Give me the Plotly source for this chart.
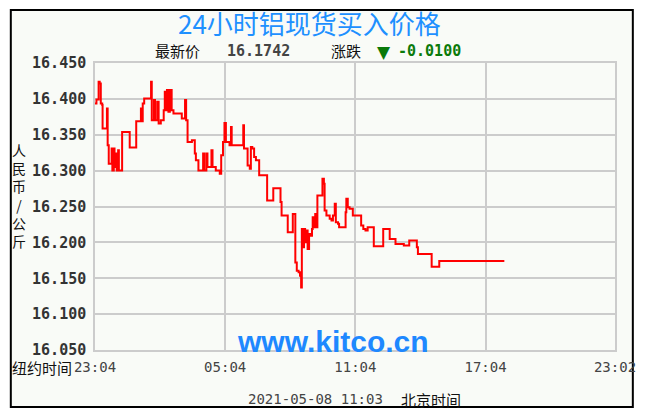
import pandas as pd
import plotly.graph_objects as go

# ---- data ----
start_time = "2021-05-07 23:04"
minutes = [0, 4, 10, 13, 16, 20, 21, 33, 35, 38, 46, 48, 52, 54, 58, 60, 64, 66, 75, 96,
           114, 127, 128, 132, 136, 155, 157, 163, 166, 172, 176, 182, 190, 193, 196, 199,
           203, 207, 212, 217, 240, 249, 252, 256, 268, 276, 279, 286, 299, 302, 308, 311,
           322, 325, 334, 345, 349, 354, 358, 362, 372, 376, 378, 410, 412, 422, 428, 431,
           435, 440, 445, 454, 476, 493, 513, 516, 533, 547, 554, 558, 563, 567, 570, 572,
           575, 578, 581, 584, 588, 592, 597, 600, 602, 606, 609, 611, 615, 629, 633, 635,
           640, 649, 654, 658, 663, 666, 672, 675, 693, 695, 699, 704, 713, 736, 742, 748,
           754, 771, 797, 815, 831, 854, 869, 890, 893, 931, 952, 1132]
prices = [16.3936, 16.3992, 16.4239, 16.4216, 16.3936, 16.3913, 16.3586, 16.3866, 16.3353,
          16.3097, 16.3307, 16.3003, 16.3307, 16.3050, 16.3237, 16.3003, 16.3283, 16.3003,
          16.3540, 16.3321, 16.3689, 16.3866, 16.3689, 16.3936, 16.4006, 16.4239, 16.3703,
          16.3983, 16.3703, 16.3959, 16.3656, 16.3703, 16.3843, 16.4099, 16.3843, 16.4122,
          16.3820, 16.4122, 16.3843, 16.3796, 16.3726, 16.3983, 16.3703, 16.3400, 16.3423,
          16.3237, 16.3143, 16.3003, 16.3237, 16.3003, 16.3237, 16.3050, 16.3283, 16.3050,
          16.3003, 16.2957, 16.3213, 16.3400, 16.3665, 16.3400, 16.3353, 16.3609, 16.3353,
          16.3633, 16.3307, 16.3073, 16.3027, 16.3330, 16.3307, 16.3190, 16.3143, 16.2934,
          16.2584, 16.2756, 16.2561, 16.2374, 16.2141, 16.2397, 16.1721, 16.1605, 16.1582,
          16.1535, 16.1372, 16.2188, 16.1931, 16.2188, 16.2001, 16.2164, 16.1908, 16.2118,
          16.2094, 16.2188, 16.2351, 16.2211, 16.2397, 16.2211, 16.2654, 16.2887, 16.2817,
          16.2444, 16.2374, 16.2328, 16.2304, 16.2374, 16.2537, 16.2281, 16.2258, 16.2211,
          16.2421, 16.2607, 16.2491, 16.2467, 16.2374, 16.2234, 16.2188, 16.2164, 16.2211,
          16.1945, 16.2188, 16.2048, 16.1978, 16.1955, 16.2025, 16.1931, 16.1838, 16.1661,
          16.1742, 16.1742]
tick_minutes = [0, 360, 720, 1080, 1438]
tick_labels = ["23:04", "05:04", "11:04", "17:04", "23:02"]
y_ticks = [16.05, 16.10, 16.15, 16.20, 16.25, 16.30, 16.35, 16.40, 16.45]

title_text = "24小时铝现货买入价格"
latest_label, latest_value = "最新价", "16.1742"
change_label, change_value = "涨跌", "-0.0100"
stamp_text, stamp_zone = "2021-05-08 11:03", "北京时间"

base = pd.Timestamp(start_time)
times = [base + pd.Timedelta(minutes=m) for m in minutes]
tick_vals = [base + pd.Timedelta(minutes=m) for m in tick_minutes]

# ---- layout helpers (pixel -> paper) ----
W, H = 648, 415
PL, PR, PT, PB = 95, 620, 63, 350
def px(x):
    return (x - PL) / (PR - PL)
def py(y):
    return (PB - y) / (PB - PT)

fig = go.Figure()
fig.add_trace(go.Scatter(x=times, y=prices, mode="lines", line_shape="hv",
                         line=dict(color="#ff0000", width=2), hoverinfo="skip",
                         showlegend=False))

grid = "#cccccc"
fig.update_layout(
    width=W, height=H,
    margin=dict(l=PL, r=W - PR, t=PT, b=H - PB, pad=0),
    paper_bgcolor="#ffffff", plot_bgcolor="#ffffff",
    showlegend=False,
    xaxis=dict(range=[tick_vals[0], tick_vals[-1]], tickvals=tick_vals, ticktext=tick_labels,
               showgrid=True, gridcolor=grid, gridwidth=1.5, zeroline=False,
               showline=True, linecolor=grid, linewidth=1.5, mirror=True,
               ticks="outside", ticklen=3, tickcolor="rgba(0,0,0,0)",
               tickfont=dict(family="DejaVu Sans Mono", size=14, color="#444444")),
    yaxis=dict(range=[16.05, 16.45], tickvals=y_ticks, tickformat=".3f",
               showgrid=True, gridcolor=grid, gridwidth=1.5, zeroline=False,
               showline=True, linecolor=grid, linewidth=1.5, mirror=True,
               ticks="outside", ticklen=4, tickcolor="rgba(0,0,0,0)",
               tickfont=dict(family="DejaVu Sans Mono", size=15, color="#333333",
                             weight="bold")),
)

# outer frame with tinted background
fig.add_shape(type="rect", xref="paper", yref="paper", layer="below",
              x0=px(10), x1=px(638), y0=py(407), y1=py(10),
              line=dict(color="#000000", width=2), fillcolor="#f9fbf7")

cjk = "Noto Sans CJK SC"
mono = "DejaVu Sans Mono"
def ann(text, x, y, size, color, family, xanchor="center", bold=False, yanchor="middle"):
    fig.add_annotation(text=text, x=px(x), y=py(y), xref="paper", yref="paper",
                       xanchor=xanchor, yanchor=yanchor, showarrow=False, borderpad=0,
                       font=dict(size=size, color=color, family=family,
                                 weight="bold" if bold else "normal"))

ann(title_text, 312, 22, 26, "#1e90ff", cjk)
ann(latest_label, 155, 51, 15, "#111111", cjk, xanchor="left")
ann(latest_value, 227, 51, 15, "#444444", mono, xanchor="left", bold=True)
ann(change_label, 332, 51, 15, "#111111", cjk, xanchor="left")
ann("▼", 379, 52, 17, "#0a7a0a", "DejaVu Sans", xanchor="left")
ann(change_value, 400, 51, 15, "#0a7a0a", mono, xanchor="left", bold=True)
ann("人<br>民<br>币<br>/<br>公<br>斤", 18, 195, 14, "#111111", cjk)
ann("纽约时间", 73, 367, 15, "#111111", cjk, xanchor="right")
ann(stamp_text, 248, 399, 14, "#444444", mono, xanchor="left")
ann(stamp_zone, 403, 399, 15, "#111111", cjk, xanchor="left")
ann("www.kitco.cn", 335, 341, 30, "#1e88ff", "Liberation Sans", bold=True)

fig.write_html("out.html", post_script="document.body.style.margin='0px';",
               config={"displayModeBar": False})
